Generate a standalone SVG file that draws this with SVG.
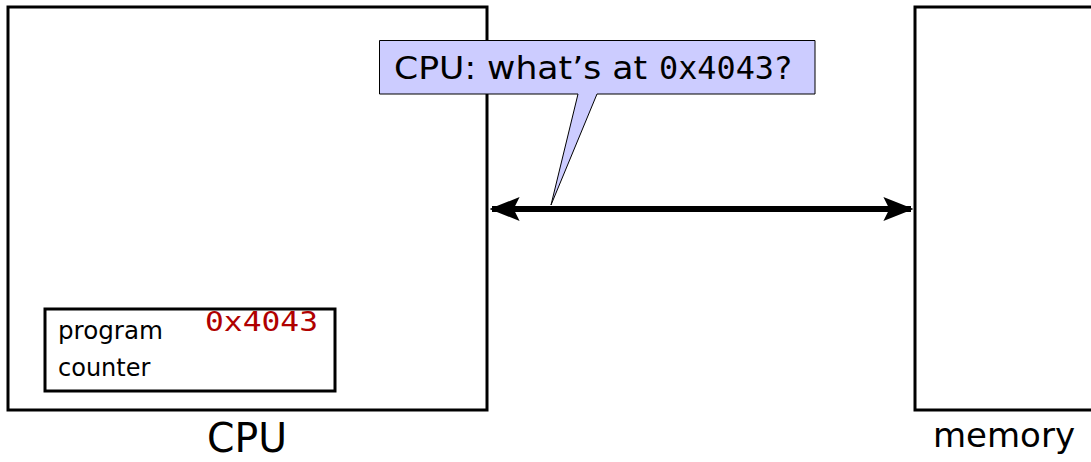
<svg xmlns="http://www.w3.org/2000/svg" width="1091" height="462" viewBox="0 0 1091 462">
<style>
.box{fill:#fff;stroke:#000;stroke-width:3}
.t{font-family:"DejaVu Sans","Noto Sans",sans-serif;fill:#000}
.m{font-family:"DejaVu Sans Mono","Liberation Mono",monospace}
</style>
<defs>
<marker id="ah" markerWidth="5" markerHeight="4" refX="4.6" refY="2" orient="auto-start-reverse" markerUnits="strokeWidth">
<path d="M0,0 L5,2 L0,4 L1,2 Z" fill="#000"/>
</marker>
</defs>
<g id="cpu">
<rect class="box" x="8" y="7" width="479" height="403"/>
<text class="t" x="247" y="452" font-size="40" text-anchor="middle" textLength="80" lengthAdjust="spacingAndGlyphs">CPU</text>
</g>
<g id="memory">
<rect class="box" x="915" y="7" width="178" height="403"/>
<text class="t" x="1004" y="447" font-size="33" text-anchor="middle" textLength="142" lengthAdjust="spacingAndGlyphs">memory</text>
</g>
<g id="pc">
<rect class="box" x="45" y="309" width="290" height="82"/>
<text class="t" x="58" y="339" font-size="24" textLength="105" lengthAdjust="spacingAndGlyphs">program</text>
<text class="t" x="58" y="376" font-size="24">counter</text>
<text class="m" x="205" y="331" font-size="27" fill="#b00000" textLength="113" lengthAdjust="spacingAndGlyphs">0x4043</text>
</g>
<g id="connectors">
<line x1="492" y1="209" x2="911" y2="209" stroke="#000" stroke-width="6" marker-start="url(#ah)" marker-end="url(#ah)"/>
</g>
<g id="callout">
<path d="M379.5,40.5 H815 V94 H597 L551,205 L578,94 H379.5 Z" fill="#ccccff" stroke="#000" stroke-width="1"/>
<text class="t" y="79" font-size="32"><tspan x="394" textLength="253" lengthAdjust="spacingAndGlyphs">CPU: what’s at</tspan><tspan class="m" x="659" textLength="115" lengthAdjust="spacingAndGlyphs">0x4043</tspan><tspan x="775">?</tspan></text>
</g>
</svg>
